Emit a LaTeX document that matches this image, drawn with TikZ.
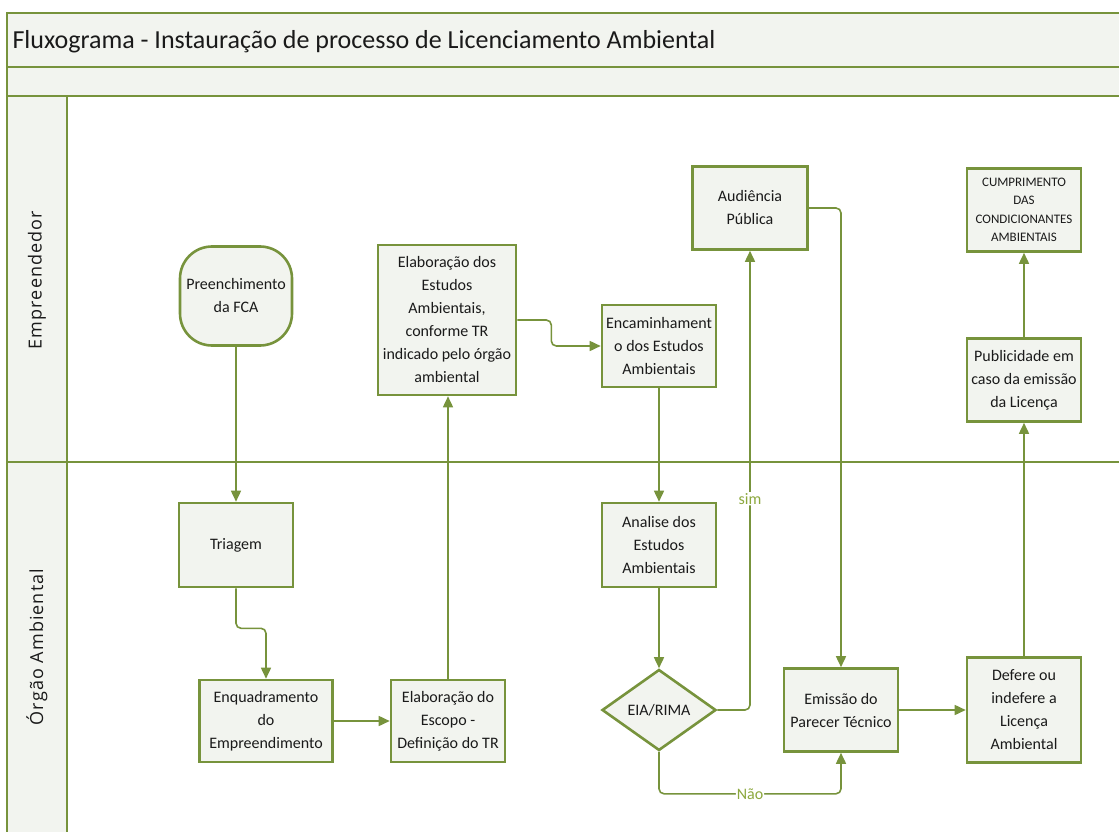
\documentclass[tikz,border=0pt]{standalone}
\usepackage{fontspec}
\setmainfont{Carlito}
\newfontfamily\lanefont[LetterSpace=6]{Open Sans}
\usetikzlibrary{shapes.geometric,arrows.meta}
\definecolor{olive}{HTML}{77933C}
\definecolor{boxfill}{HTML}{F2F4EF}
\definecolor{labelolive}{HTML}{8CA83E}
\definecolor{ink}{HTML}{1A1A1A}
\begin{document}
\begin{tikzpicture}[x=1pt,y=-1pt,
  box/.style={draw=olive, line width=2.6pt, fill=boxfill, align=center,
    font=\fontsize{16}{23}\selectfont, text=ink, inner sep=0pt},
  flow/.style={draw=olive, line width=1.6pt, rounded corners=5pt,
    -{Triangle[length=11pt,width=10pt]}},
  frameline/.style={draw=olive, line width=2pt},
  branch/.style={fill=white, text=labelolive, inner sep=1pt,
    font=\fontsize{16}{18}\selectfont},
  lane/.style={rotate=90, text=ink, font=\lanefont\fontsize{18}{22}\selectfont}]
\useasboundingbox (0,0) rectangle (1119,832);

% pool frame: title band, sub-band and lane header column
\fill[boxfill] (7,13) rectangle (1130,96);
\fill[boxfill] (7,96) rectangle (67,840);
\draw[frameline] (1130,13) -- (7,13) -- (7,840);
\draw[frameline] (7,67) -- (1130,67);
\draw[frameline] (7,96) -- (1130,96);
\draw[frameline] (67,96) -- (67,840);
\draw[frameline] (7,462) -- (1130,462);

\node[anchor=west, text=ink, font=\fontsize{26}{30}\selectfont] (title) at (9,42)
  {Fluxograma - Instauração de processo de Licenciamento Ambiental};
\node[lane] (laneA) at (37,280) {Empreendedor};
\node[lane] (laneB) at (37,647) {Órgão Ambiental};

% process steps
\node[box, rounded corners=32pt, minimum width=112pt, minimum height=99pt] (fca) at (236,296)
  {Preenchimento\\da FCA};
\node[box, minimum width=114pt, minimum height=84pt] (triagem) at (236,545) {Triagem};
\node[box, minimum width=133pt, minimum height=82pt] (enq) at (266,721)
  {Enquadramento\\do\\Empreendimento};
\node[box, minimum width=114pt, minimum height=82pt] (escopo) at (448,721)
  {Elaboração do\\Escopo -\\Definição do TR};
\node[box, minimum width=138pt, minimum height=150pt] (estudos) at (447,320)
  {Elaboração dos\\Estudos\\Ambientais,\\conforme TR\\indicado pelo órgão\\ambiental};
\node[box, minimum width=114pt, minimum height=82pt] (encam) at (659,346)
  {Encaminhament\\o dos Estudos\\Ambientais};
\node[box, minimum width=114pt, minimum height=84pt] (analise) at (659,545)
  {Analise dos\\Estudos\\Ambientais};
\node[box, diamond, aspect=1.4, minimum width=114pt, minimum height=81pt] (eia) at (659,710)
  {EIA/RIMA};
\node[box, minimum width=115pt, minimum height=83pt] (aud) at (750,208)
  {Audiência\\Pública};
\node[box, minimum width=114pt, minimum height=83pt] (emissao) at (841,710)
  {Emissão do\\Parecer Técnico};
\node[box, minimum width=114pt, minimum height=105pt] (defere) at (1024,710)
  {Defere ou\\indefere a\\Licença\\Ambiental};
\node[box, minimum width=114pt, minimum height=83pt] (publ) at (1024,380)
  {Publicidade em\\caso da emissão\\da Licença};
\node[box, minimum width=114pt, minimum height=83pt, font=\fontsize{13}{18.5}\selectfont] (cumpr) at (1024,210)
  {CUMPRIMENTO\\DAS\\CONDICIONANTES\\AMBIENTAIS};

% connectors
\draw[flow] (fca.south) -- (triagem.north);
\draw[flow] (triagem.south) -- ++(0,40) -| (enq.north);
\draw[flow] (enq.east) -- (escopo.west);
\draw[flow] (escopo.north) -- (escopo.north |- estudos.south);
\draw[flow] (estudos.east) -- ++(34,0) |- (encam.west);
\draw[flow] (encam.south) -- (analise.north);
\draw[flow] (analise.south) -- (eia.north);
\draw[flow] (eia.east) -| node[branch, pos=0.73] {sim} (aud.south);
\draw[flow] (eia.south) -- ++(0,42) -| node[branch, pos=0.25] {Não} (emissao.south);
\draw[flow] (aud.east) -| (emissao.north);
\draw[flow] (emissao.east) -- (defere.west);
\draw[flow] (defere.north) -- (publ.south);
\draw[flow] (publ.north) -- (cumpr.south);
\end{tikzpicture}
\end{document}
